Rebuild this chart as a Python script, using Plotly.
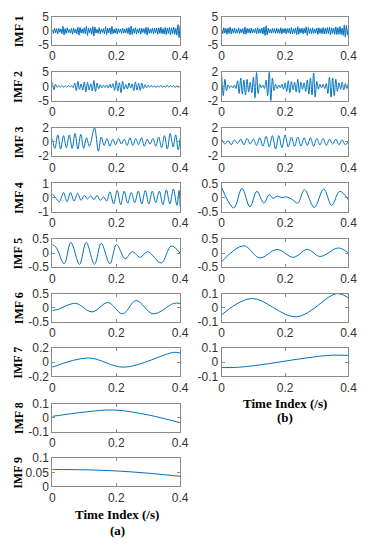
import numpy as np
import plotly.graph_objects as go

W, H = 372, 550

# ---------------- data ----------------
x_ticks = [0, 0.2, 0.4]
x_ticktext = ["0", "0.2", "0.4"]

# (a) column
a_imf1 = [0.4,-0.9,1.0,-0.7,0.8,-1.1,0.9,-0.5,0.7,-1.0,
          1.6,-1.4,0.8,-0.9,1.1,-0.6,0.5,-0.8,0.9,-1.2,
          1.0,-0.7,0.6,-1.0,1.3,-1.5,1.2,-0.8,0.7,-0.9,
          1.1,-1.0,1.7,-1.6,0.9,-0.7,1.0,-1.2,1.5,-1.8,
          1.4,-0.8,0.6,-0.9,1.2,-1.0,0.7,-0.6,0.8,-1.1,
          1.5,-1.3,0.9,-0.7,1.0,-1.2,1.6,-1.0,0.6,-0.8,
          0.9,-1.1,0.8,-0.6,0.7,-0.9,1.0,-0.8,0.6,-0.7,
          0.9,-1.0,1.2,-1.4,1.7,-1.3,0.8,-0.9,1.1,-1.0,
          0.7,-0.8,1.0,-1.2,0.9,-0.6,0.8,-1.0,1.3,-1.5,
          1.2,-0.9,0.7,-0.8,1.0,-1.1,0.9,-0.7,1.0,-1.2,
          1.1,-0.9,1.3,-1.0,0.8,-1.1,1.2,-1.3,1.0,-0.9,
          1.2,-1.4,1.1,-1.0,1.3,-1.2,0.9,-1.5,2.2,-2.4,
          1.8]
a_imf2 = [1.5,-1.2,0.8,
          -0.3,0.3,-0.2,0.3,-0.3,0.2,-0.3,0.3,-0.2,0.3,-0.4,
          1.2,-1.5,1.8,-1.0,0.8,-1.3,1.6,-2.0,1.5,-1.2,0.9,-1.6,2.1,-1.8,1.2,-0.8,0.6,-0.5,0.4,
          -0.4,0.5,-0.6,0.8,-0.5,
          1.0,-1.4,2.0,-1.6,1.3,-2.2,1.8,-1.0,0.7,-0.9,1.2,-0.6,
          0.9,-1.5,1.6,-1.3,1.1,-1.4,1.2,-0.8,0.6,-0.5,0.4,
          -0.3,0.4,-0.3,0.2,-0.4,0.3,-0.2,0.3,-0.3,0.2,-0.3,0.4,-0.3,0.3,-0.2,0.3,-0.4,0.3,-0.3,0.2]
a_imf3_t = [0,0.008,0.017,0.026,0.035,0.044,0.053,0.062,0.071,0.080,0.089,0.098,0.107,0.116,
            0.132,0.144,0.153,0.162,0.171,0.180,0.189,0.198,0.207,0.216,0.225,0.234,0.243,
            0.252,0.261,0.270,0.279,0.288,0.297,0.306,0.315,0.324,0.333,0.342,0.351,0.360,
            0.369,0.378,0.386,0.394,0.400]
a_imf3_v = [0.5,-0.9,1.0,-1.0,0.9,-0.8,1.0,-0.9,1.2,-1.0,1.1,-0.9,0.6,-0.6,
            2.0,-1.3,0.7,-0.5,0.5,-0.6,0.4,-0.4,0.5,-0.3,0.4,-0.5,0.6,
            -0.5,0.5,-0.4,0.6,-0.6,0.4,-0.3,0.5,-0.6,0.7,-0.8,0.9,-1.0,
            1.2,-0.7,1.0,-1.1,0.5]
a_imf4_t = [0,0.01,0.022,0.035,0.046,0.057,0.068,0.079,0.09,0.1,0.11,0.12,0.13,0.14,0.15,
            0.16,0.17,0.18,0.192,0.203,0.214,0.225,0.236,0.247,0.258,0.269,0.28,0.291,
            0.302,0.313,0.324,0.335,0.346,0.357,0.368,0.379,0.39,0.397,0.40]
a_imf4_v = [0.25,0.0,-0.3,0.35,-0.3,0.35,-0.25,0.3,-0.2,0.15,-0.1,0.12,-0.15,0.15,-0.2,
            0.05,-0.25,0.4,-0.45,0.5,-0.5,0.45,-0.4,0.35,-0.35,0.45,-0.45,0.5,
            -0.45,0.45,-0.35,0.45,-0.5,0.55,-0.45,0.6,-0.55,0.5,-0.65]
a_imf5_t = [0,0.012,0.037,0.058,0.085,0.106,0.132,0.153,0.18,0.201,0.228,0.25,0.275,0.298,
            0.341,0.372,0.4]
a_imf5_v = [0.3,0.2,-0.38,0.38,-0.4,0.38,-0.4,0.35,-0.38,0.3,-0.2,0.05,-0.15,0.05,
            -0.35,0.25,0.0]
a_imf6_t = [0,0.015,0.073,0.124,0.174,0.22,0.262,0.316,0.38,0.4]
a_imf6_v = [-0.1,-0.07,0.15,-0.15,0.18,-0.22,0.25,-0.22,0.15,0.15]
a_imf7_t = [0,0.113,0.225,0.38,0.4]
a_imf7_v = [-0.07,0.06,-0.07,0.14,0.13]
a_imf8_t = [0,0.1,0.194,0.3,0.4]
a_imf8_v = [0.01,0.04,0.055,0.02,-0.035]
a_imf9_t = [0,0.1,0.2,0.3,0.4]
a_imf9_v = [0.06,0.059,0.055,0.047,0.036]

# (b) column
b_imf1 = [0.5,-1.0,1.1,-0.8,0.9,-1.2,1.0,-0.9,1.3,-1.1,
          0.8,-0.7,1.0,-0.9,0.6,-0.8,1.1,-1.0,0.7,-0.6,
          0.8,-1.1,1.4,-1.2,0.9,-0.7,0.8,-0.9,1.0,-0.8,
          0.6,-0.7,0.9,-1.0,1.1,-0.9,0.7,-0.8,1.0,-1.1,
          1.3,-1.6,1.8,-1.4,0.9,-0.7,0.6,-0.8,0.9,-0.7,
          0.8,-0.9,1.0,-0.8,0.7,-0.9,1.1,-1.0,0.8,-0.7,
          0.9,-1.0,0.8,-0.7,0.9,-1.1,1.2,-1.0,0.8,-0.9,
          1.0,-1.3,1.5,-1.2,0.9,-0.8,1.0,-1.1,0.9,-0.8,
          1.4,-1.6,1.2,-0.9,0.8,-1.0,1.1,-0.9,0.7,-0.8,
          1.0,-1.2,1.1,-0.9,0.8,-1.0,1.2,-1.1,0.9,-1.0,
          1.2,-1.0,1.3,-1.4,1.1,-0.9,1.0,-1.2,1.4,-1.3,
          1.1,-1.2,1.5,-1.3,1.0,-1.6,2.0,-2.2,1.9,-1.5,
          1.0]
b_imf2 = [1.5,-1.3,1.0,-0.6,
          0.2,-0.2,0.1,-0.2,0.2,-0.3,
          0.8,-1.0,1.2,-1.1,0.9,-1.2,1.0,-0.8,0.6,-0.9,1.3,-1.6,
          2.0,-1.0,0.3,-0.2,0.2,-0.3,
          0.9,-1.3,2.0,-2.2,1.2,-0.6,
          0.3,-0.3,0.2,-0.2,0.3,-0.4,0.5,
          -0.7,0.8,-0.9,0.7,-0.5,0.6,-0.8,1.0,-0.9,0.6,-0.4,0.5,-0.7,0.9,-1.1,1.2,
          -1.2,1.9,-1.5,0.7,
          -0.4,0.3,-0.2,0.3,-0.3,0.4,
          -1.0,1.3,-1.5,1.2,-1.3,1.0,-0.7,
          0.5,-0.4,0.6,-0.5,0.4,-0.3,0.5]
b_imf3 = [0.4,-0.3,0.2,-0.4,0.3,-0.2,0.4,-0.4,0.5,-0.3,0.4,-0.5,0.6,-0.6,0.8,-0.7,
          0.9,-1.0,0.9,-0.8,1.0,-0.7,0.7,-0.6,0.7,-0.6,0.6,-0.5,0.6,-0.6,0.5,-0.4,
          0.5,-0.5,0.4,-0.3,0.4,-0.4,0.3,-0.4,0.1]
b_imf4_t = [0,0.038,0.064,0.089,0.111,0.133,0.15,0.162,0.175,0.19,0.205,0.22,0.24,
            0.261,0.292,0.322,0.347,0.372,0.4]
b_imf4_v = [0.35,-0.37,0.32,-0.33,0.22,-0.2,0.1,-0.03,0.05,0.0,0.02,-0.05,-0.2,
            0.28,-0.35,0.3,-0.28,0.22,-0.08]
b_imf5_t = [0,0.069,0.12,0.175,0.226,0.27,0.31,0.368,0.4]
b_imf5_v = [-0.3,0.26,-0.17,0.13,-0.15,0.13,-0.12,0.18,0.0]
b_imf6_t = [0,0.094,0.236,0.363,0.4]
b_imf6_v = [-0.05,0.065,-0.065,0.1,0.07]
b_imf7_t = [0,0.05,0.1,0.15,0.2,0.25,0.3,0.35,0.4]
b_imf7_v = [-0.038,-0.036,-0.025,-0.01,0.008,0.025,0.04,0.05,0.048]

# ---------------- panels ----------------
def grid(vals):
    return list(np.linspace(0, 0.4, len(vals)))

panels_a = [
    ("IMF 1", grid(a_imf1), a_imf1, [-5, 5], [-5, 0, 5], ["-5", "0", "5"], "linear"),
    ("IMF 2", grid(a_imf2), a_imf2, [-5, 5], [-5, 0, 5], ["-5", "0", "5"], "spline"),
    ("IMF 3", a_imf3_t, a_imf3_v, [-2, 2], [-2, 0, 2], ["-2", "0", "2"], "spline"),
    ("IMF 4", a_imf4_t, a_imf4_v, [-1, 1], [-1, 0, 1], ["-1", "0", "1"], "spline"),
    ("IMF 5", a_imf5_t, a_imf5_v, [-0.5, 0.5], [-0.5, 0, 0.5], ["-0.5", "0", "0.5"], "spline"),
    ("IMF 6", a_imf6_t, a_imf6_v, [-0.5, 0.5], [-0.5, 0, 0.5], ["-0.5", "0", "0.5"], "spline"),
    ("IMF 7", a_imf7_t, a_imf7_v, [-0.2, 0.2], [-0.2, 0, 0.2], ["-0.2", "0", "0.2"], "spline"),
    ("IMF 8", a_imf8_t, a_imf8_v, [-0.1, 0.1], [-0.1, 0, 0.1], ["-0.1", "0", "0.1"], "spline"),
    ("IMF 9", a_imf9_t, a_imf9_v, [0, 0.1], [0, 0.05, 0.1], ["0", "0.05", "0.1"], "spline"),
]
panels_b = [
    (None, grid(b_imf1), b_imf1, [-5, 5], [-5, 0, 5], ["-5", "0", "5"], "linear"),
    (None, grid(b_imf2), b_imf2, [-2, 2], [-2, 0, 2], ["-2", "0", "2"], "spline"),
    (None, grid(b_imf3), b_imf3, [-2, 2], [-2, 0, 2], ["-2", "0", "2"], "spline"),
    (None, b_imf4_t, b_imf4_v, [-0.5, 0.5], [-0.5, 0, 0.5], ["-0.5", "0", "0.5"], "spline"),
    (None, b_imf5_t, b_imf5_v, [-0.5, 0.5], [-0.5, 0, 0.5], ["-0.5", "0", "0.5"], "spline"),
    (None, b_imf6_t, b_imf6_v, [-0.1, 0.1], [-0.1, 0, 0.1], ["-0.1", "0", "0.1"], "spline"),
    (None, b_imf7_t, b_imf7_v, [-0.1, 0.1], [-0.1, 0, 0.1], ["-0.1", "0", "0.1"], "spline"),
]

row_tops = [10, 67, 124, 181, 238, 294, 350, 407, 463]
ph = 29
col_x = [[51 / W, 183 / W], [226 / W, 357 / W]]

LINE = "#0072BD"
FRAME = "#8a8a8a"
TICKFONT = dict(family="Arial, Liberation Sans, sans-serif", size=12, color="#333333")
SERIF = "Times New Roman, Liberation Serif, serif"

fig = go.Figure()
layout = dict(width=W, height=H, margin=dict(l=0, r=0, t=0, b=0),
              paper_bgcolor="white", plot_bgcolor="white", showlegend=False)
annotations = []

k = 0
for ci, panels in enumerate([panels_a, panels_b]):
    for ri, (lab, t, v, yr, yt, ytt, shape) in enumerate(panels):
        k += 1
        xa = "x" if k == 1 else f"x{k}"
        ya = "y" if k == 1 else f"y{k}"
        top = row_tops[ri]
        ydom = [1 - (top + ph) / H, 1 - top / H]
        fig.add_trace(go.Scatter(x=t, y=v, mode="lines", xaxis=xa, yaxis=ya,
                                 line=dict(color=LINE, width=1, shape=shape, smoothing=1.0),
                                 hoverinfo="skip"))
        common = dict(showline=True, linecolor=FRAME, linewidth=1, mirror="ticks",
                      ticks="inside", ticklen=3, tickcolor=FRAME, showgrid=False,
                      zeroline=False, tickfont=TICKFONT, fixedrange=True)
        layout["xaxis" if k == 1 else f"xaxis{k}"] = dict(
            domain=col_x[ci], range=[0, 0.4], anchor=ya,
            tickvals=x_ticks, ticktext=x_ticktext, **common)
        layout["yaxis" if k == 1 else f"yaxis{k}"] = dict(
            domain=ydom, range=yr, anchor=xa,
            tickvals=yt, ticktext=ytt, **common)
        if lab:
            annotations.append(dict(text=f"<b>{lab}</b>", x=16 / W, y=1 - (top + ph / 2) / H,
                                    xref="paper", yref="paper", showarrow=False,
                                    textangle=-90, xanchor="center", yanchor="middle",
                                    font=dict(family=SERIF, size=12, color="black")))

for txt, xc, yc in [("Time Index (/s)", 118, 521), ("(a)", 118, 537),
                    ("Time Index (/s)", 291, 407), ("(b)", 291, 421)]:
    annotations.append(dict(text=f"<b>{txt}</b>", x=xc / W, y=1 - yc / H,
                            xref="paper", yref="paper", showarrow=False,
                            xanchor="center", yanchor="middle",
                            font=dict(family=SERIF, size=13, color="black")))

layout["annotations"] = annotations
fig.update_layout(**layout)
fig.write_html("out.html", config={"displayModeBar": False},
               post_script="document.body.style.margin='0';document.body.style.overflow='hidden';")
